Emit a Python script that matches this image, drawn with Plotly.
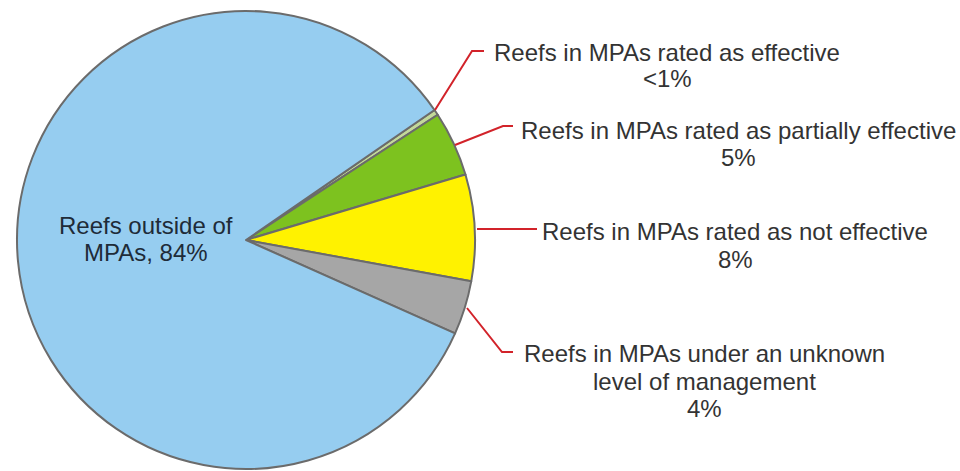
import plotly.graph_objects as go

# ---- data ----
categories = [
    "Reefs in MPAs rated as effective",
    "Reefs in MPAs rated as partially effective",
    "Reefs in MPAs rated as not effective",
    "Reefs in MPAs under an unknown level of management",
    "Reefs outside of MPAs",
]
values = [0.4, 4.6, 7.5, 3.8, 83.7]
slice_colors = ["#C3D99A", "#7DC21F", "#FFF200", "#A6A6A6", "#96CDF0"]

# label text blocks (one entry per line)
label_lines = [
    ["Reefs in MPAs rated as effective", "<1%"],
    ["Reefs in MPAs rated as partially effective", "5%"],
    ["Reefs in MPAs rated as not effective", "8%"],
    ["Reefs in MPAs under an unknown", "level of management", "4%"],
]
inside_lines = ["Reefs outside of", "MPAs, 84%"]

# ---- layout geometry (pixels) ----
W, H = 960, 471
CX, CY, R = 246, 240, 229


def px(x):
    return x / W


def py(y):
    return 1 - y / H


fig = go.Figure()
fig.add_trace(go.Pie(
    labels=categories,
    values=values,
    marker=dict(colors=slice_colors, line=dict(color="#6B6B6B", width=2)),
    sort=False,
    direction="clockwise",
    rotation=55.4,
    textinfo="none",
    hoverinfo="label+percent",
    showlegend=False,
    domain=dict(x=[px(CX - R), px(CX + R)], y=[py(CY + R), py(CY - R)]),
))

# leader lines (pixel paths)
leaders = [
    [(435, 110), (472, 51), (484, 51)],
    [(455, 145), (503, 126), (513, 126)],
    [(477, 229), (537, 229)],
    [(467, 308), (502, 352), (513, 352)],
]
for pts in leaders:
    path = "M " + " L ".join(f"{px(x)},{py(y)}" for x, y in pts)
    fig.add_shape(type="path", path=path, xref="paper", yref="paper",
                  line=dict(color="#D2232A", width=2))

# text positions: (center x, list of line center y)
label_pos = [
    (667, [53, 79]),
    (738, [131, 158]),
    (735, [231, 259]),
    (704, [353, 381, 408]),
]
font_right = dict(family="Liberation Sans, Arial, sans-serif", size=24, color="#333333")
for lines, (x, ys) in zip(label_lines, label_pos):
    for t, y in zip(lines, ys):
        fig.add_annotation(text=t, x=px(x), y=py(y), xref="paper", yref="paper",
                           xanchor="center", yanchor="middle", showarrow=False,
                           font=font_right)

for t, y in zip(inside_lines, [225, 252]):
    fig.add_annotation(text=t, x=px(146), y=py(y), xref="paper", yref="paper",
                       xanchor="center", yanchor="middle", showarrow=False,
                       font=dict(family="Liberation Sans, Arial, sans-serif", size=24,
                                 color="#1E2B38"))

fig.update_layout(
    width=W, height=H,
    margin=dict(l=0, r=0, t=0, b=0),
    paper_bgcolor="white",
    plot_bgcolor="white",
)

fig.write_html("out.html")
